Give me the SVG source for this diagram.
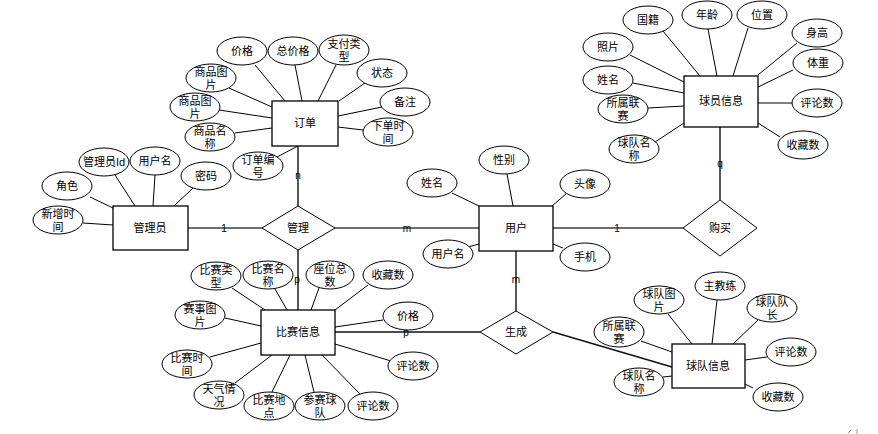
<svg xmlns="http://www.w3.org/2000/svg" width="878" height="434" viewBox="0 0 878 434">
<style>
.bg{fill:#fff}
.e{fill:#fff;stroke:#000;stroke-width:1}
.r{fill:#fff;stroke:#000;stroke-width:1.3}
.d{fill:#fff;stroke:#000;stroke-width:1}
.a{stroke:#000;stroke-width:1;fill:none}
.c{stroke:#111;stroke-width:1.4;fill:none}
.g{stroke:#6e6e6e;stroke-width:2;fill:none}
text{font-family:"Liberation Sans","Noto Sans CJK SC",sans-serif;font-size:11px;fill:#000;text-anchor:middle}
.l{font-size:10px}
</style>
<rect class="bg" x="0" y="0" width="878" height="434"/>

<g id="connectors">
<line class="g" x1="188" y1="228" x2="262" y2="228"/>
<line class="g" x1="335" y1="228" x2="479" y2="228"/>
<line class="g" x1="553" y1="228" x2="683" y2="228"/>
<line class="c" x1="298" y1="146" x2="298" y2="206"/>
<line class="c" x1="298" y1="250" x2="298" y2="310"/>
<line class="c" x1="720" y1="127" x2="720" y2="200"/>
<line class="c" x1="516" y1="251" x2="516" y2="311"/>
<line class="c" x1="335" y1="332" x2="480" y2="332"/>
<line class="c" x1="553" y1="332" x2="672" y2="367"/>
<text class="l" x="224" y="231.5">1</text>
<text class="l" x="407" y="231.5">m</text>
<text class="l" x="617" y="231.5">1</text>
<text class="l" x="298" y="179">n</text>
<text class="l" x="297" y="283">p</text>
<text class="l" x="720" y="167">q</text>
<text class="l" x="516" y="283">m</text>
<text class="l" x="406" y="336">p</text>
</g>

<g id="rel-guanli">
<polygon class="d" points="262,228 298,206 335,228 298,250"/>
<text x="298" y="232">管理</text>
</g>
<g id="rel-goumai">
<polygon class="d" points="683,228 720,200 757,228 720,256"/>
<text x="720" y="232">购买</text>
</g>
<g id="rel-shengcheng">
<polygon class="d" points="480,332 516,311 553,332 516,354"/>
<text x="516" y="336">生成</text>
</g>

<g id="order">
<line class="a" x1="255" y1="65" x2="285" y2="101"/>
<line class="a" x1="295" y1="65" x2="302" y2="101"/>
<line class="a" x1="336" y1="65" x2="318" y2="101"/>
<line class="a" x1="365" y1="83" x2="339" y2="101"/>
<line class="a" x1="382" y1="107" x2="338" y2="116"/>
<line class="a" x1="363" y1="130" x2="338" y2="127"/>
<line class="a" x1="229" y1="88" x2="272" y2="107"/>
<line class="a" x1="219" y1="110" x2="272" y2="118"/>
<line class="a" x1="235" y1="133" x2="272" y2="128"/>
<line class="a" x1="277" y1="157" x2="298" y2="146"/>
<rect class="r" x="272" y="101" width="66" height="45"/>
<text x="305" y="127">订单</text>
<ellipse class="e" cx="242" cy="51" rx="25" ry="14"/><text x="242" y="55">价格</text>
<ellipse class="e" cx="293" cy="51" rx="25" ry="14"/><text x="293" y="55">总价格</text>
<ellipse class="e" cx="344" cy="50" rx="25" ry="15"/><text x="344" y="47.5">支付类</text><text x="344" y="60.5">型</text>
<ellipse class="e" cx="382" cy="73" rx="25" ry="14"/><text x="382" y="77">状态</text>
<ellipse class="e" cx="405" cy="102" rx="25" ry="14"/><text x="405" y="106">备注</text>
<ellipse class="e" cx="388" cy="132" rx="25" ry="14"/><text x="388" y="129.5">下单时</text><text x="388" y="142.5">间</text>
<ellipse class="e" cx="211" cy="78" rx="25" ry="14"/><text x="211" y="75.5">商品图</text><text x="211" y="88.5">片</text>
<ellipse class="e" cx="195" cy="107" rx="25" ry="14"/><text x="195" y="104.5">商品图</text><text x="195" y="117.5">片</text>
<ellipse class="e" cx="210" cy="137" rx="25" ry="14"/><text x="210" y="134.5">商品名</text><text x="210" y="147.5">称</text>
<ellipse class="e" cx="258" cy="166" rx="25" ry="14"/><text x="258" y="163.5">订单编</text><text x="258" y="176.5">号</text>
</g>

<g id="admin">
<line class="a" x1="90" y1="197" x2="113" y2="208"/>
<line class="a" x1="115" y1="175" x2="135" y2="206"/>
<line class="a" x1="155" y1="175" x2="153" y2="206"/>
<line class="a" x1="193" y1="188" x2="174" y2="206"/>
<line class="a" x1="83" y1="223" x2="113" y2="225"/>
<rect class="r" x="113" y="206" width="75" height="44"/>
<text x="150" y="232">管理员</text>
<ellipse class="e" cx="67" cy="186" rx="25" ry="14"/><text x="67" y="190">角色</text>
<ellipse class="e" cx="104" cy="162" rx="25" ry="14"/><text x="104" y="166">管理员Id</text>
<ellipse class="e" cx="155" cy="161" rx="25" ry="14"/><text x="155" y="165">用户名</text>
<ellipse class="e" cx="206" cy="176" rx="25" ry="14"/><text x="206" y="180">密码</text>
<ellipse class="e" cx="58" cy="220" rx="25" ry="14"/><text x="58" y="217.5">新增时</text><text x="58" y="230.5">间</text>
</g>

<g id="user">
<line class="a" x1="452" y1="193" x2="479" y2="206"/>
<line class="a" x1="507" y1="174" x2="513" y2="206"/>
<line class="a" x1="567" y1="193" x2="552" y2="206"/>
<line class="a" x1="468" y1="247" x2="479" y2="244"/>
<line class="a" x1="563" y1="248" x2="553" y2="244"/>
<rect class="r" x="479" y="206" width="74" height="45"/>
<text x="516" y="232">用户</text>
<ellipse class="e" cx="432" cy="183" rx="25" ry="14"/><text x="432" y="187">姓名</text>
<ellipse class="e" cx="504" cy="160" rx="25" ry="14"/><text x="504" y="164">性别</text>
<ellipse class="e" cx="585" cy="184" rx="25" ry="14"/><text x="585" y="188">头像</text>
<ellipse class="e" cx="448" cy="254" rx="25" ry="14"/><text x="448" y="258">用户名</text>
<ellipse class="e" cx="585" cy="257" rx="25" ry="14"/><text x="585" y="261">手机</text>
</g>

<g id="player">
<line class="a" x1="663" y1="31" x2="700" y2="76"/>
<line class="a" x1="708" y1="29" x2="717" y2="76"/>
<line class="a" x1="748" y1="28" x2="733" y2="76"/>
<line class="a" x1="797" y1="43" x2="758" y2="75"/>
<line class="a" x1="793" y1="70" x2="758" y2="87"/>
<line class="a" x1="792" y1="103" x2="758" y2="103"/>
<line class="a" x1="780" y1="137" x2="758" y2="123"/>
<line class="a" x1="630" y1="55" x2="684" y2="82"/>
<line class="a" x1="633" y1="83" x2="684" y2="93"/>
<line class="a" x1="648" y1="108" x2="684" y2="106"/>
<line class="a" x1="652" y1="144" x2="684" y2="123"/>
<rect class="r" x="684" y="76" width="74" height="51"/>
<text x="721" y="105">球员信息</text>
<ellipse class="e" cx="648" cy="20" rx="25" ry="14"/><text x="648" y="24">国籍</text>
<ellipse class="e" cx="707" cy="15" rx="25" ry="14"/><text x="707" y="19">年龄</text>
<ellipse class="e" cx="762" cy="15" rx="25" ry="14"/><text x="762" y="19">位置</text>
<ellipse class="e" cx="817" cy="33" rx="25" ry="14"/><text x="817" y="37">身高</text>
<ellipse class="e" cx="818" cy="63" rx="25" ry="14"/><text x="818" y="67">体重</text>
<ellipse class="e" cx="817" cy="103" rx="25" ry="14"/><text x="817" y="107">评论数</text>
<ellipse class="e" cx="803" cy="145" rx="25" ry="14"/><text x="803" y="149">收藏数</text>
<ellipse class="e" cx="608" cy="47" rx="25" ry="14"/><text x="608" y="51">照片</text>
<ellipse class="e" cx="608" cy="80" rx="25" ry="14"/><text x="608" y="84">姓名</text>
<ellipse class="e" cx="623" cy="109" rx="25" ry="14"/><text x="623" y="106.5">所属联</text><text x="623" y="119.5">赛</text>
<ellipse class="e" cx="634" cy="149" rx="25" ry="14"/><text x="634" y="146.5">球队名</text><text x="634" y="159.5">称</text>
</g>

<g id="match">
<line class="a" x1="232" y1="288" x2="265" y2="310"/>
<line class="a" x1="275" y1="289" x2="287" y2="310"/>
<line class="a" x1="319" y1="288" x2="311" y2="310"/>
<line class="a" x1="368" y1="285" x2="335" y2="310"/>
<line class="a" x1="225" y1="318" x2="261" y2="326"/>
<line class="a" x1="383" y1="320" x2="335" y2="327"/>
<line class="a" x1="210" y1="357" x2="261" y2="343"/>
<line class="a" x1="391" y1="361" x2="335" y2="344"/>
<line class="a" x1="235" y1="383" x2="272" y2="355"/>
<line class="a" x1="272" y1="392" x2="290" y2="355"/>
<line class="a" x1="314" y1="392" x2="305" y2="355"/>
<line class="a" x1="360" y1="394" x2="322" y2="355"/>
<rect class="r" x="261" y="310" width="74" height="45"/>
<text x="298" y="336">比赛信息</text>
<ellipse class="e" cx="216" cy="276" rx="25" ry="14"/><text x="216" y="273.5">比赛类</text><text x="216" y="286.5">型</text>
<ellipse class="e" cx="268" cy="275" rx="25" ry="14"/><text x="268" y="272.5">比赛名</text><text x="268" y="285.5">称</text>
<ellipse class="e" cx="330" cy="275" rx="24" ry="14"/><text x="330" y="272.5">座位总</text><text x="330" y="285.5">数</text>
<ellipse class="e" cx="388" cy="275" rx="25" ry="14"/><text x="388" y="279">收藏数</text>
<ellipse class="e" cx="200" cy="315" rx="25" ry="14"/><text x="200" y="312.5">赛事图</text><text x="200" y="325.5">片</text>
<ellipse class="e" cx="408" cy="316" rx="25" ry="14"/><text x="408" y="320">价格</text>
<ellipse class="e" cx="187" cy="364" rx="25" ry="14"/><text x="187" y="361.5">比赛时</text><text x="187" y="374.5">间</text>
<ellipse class="e" cx="413" cy="366" rx="25" ry="14"/><text x="413" y="370">评论数</text>
<ellipse class="e" cx="219" cy="395" rx="25" ry="14"/><text x="219" y="392.5">天气情</text><text x="219" y="405.5">况</text>
<ellipse class="e" cx="269" cy="406" rx="25" ry="14"/><text x="269" y="403.5">比赛地</text><text x="269" y="416.5">点</text>
<ellipse class="e" cx="320" cy="406" rx="25" ry="14"/><text x="320" y="403.5">参赛球</text><text x="320" y="416.5">队</text>
<ellipse class="e" cx="373" cy="406" rx="25" ry="14"/><text x="373" y="410">评论数</text>
</g>

<g id="team">
<line class="a" x1="668" y1="314" x2="692" y2="344"/>
<line class="a" x1="717" y1="300" x2="712" y2="344"/>
<line class="a" x1="758" y1="320" x2="733" y2="344"/>
<line class="a" x1="641" y1="341" x2="672" y2="352"/>
<line class="a" x1="767" y1="357" x2="745" y2="360"/>
<line class="a" x1="663" y1="377" x2="672" y2="376"/>
<line class="a" x1="753" y1="388" x2="745" y2="384"/>
<rect class="r" x="672" y="344" width="73" height="44"/>
<text x="708" y="370">球队信息</text>
<ellipse class="e" cx="659" cy="300" rx="25" ry="14"/><text x="659" y="297.5">球队图</text><text x="659" y="310.5">片</text>
<ellipse class="e" cx="720" cy="286" rx="25" ry="14"/><text x="720" y="290">主教练</text>
<ellipse class="e" cx="772" cy="308" rx="25" ry="14"/><text x="772" y="305.5">球队队</text><text x="772" y="318.5">长</text>
<ellipse class="e" cx="619" cy="332" rx="25" ry="15"/><text x="619" y="329.5">所属联</text><text x="619" y="342.5">赛</text>
<ellipse class="e" cx="791" cy="352" rx="25" ry="14"/><text x="791" y="356">评论数</text>
<ellipse class="e" cx="639" cy="382" rx="25" ry="14"/><text x="639" y="379.5">球队名</text><text x="639" y="392.5">称</text>
<ellipse class="e" cx="778" cy="397" rx="25" ry="14"/><text x="778" y="401">收藏数</text>
</g>

<g id="corner-mark">
<line x1="848" y1="433" x2="851" y2="430" stroke="#999" stroke-width="1"/>
<line x1="857" y1="429" x2="857" y2="434" stroke="#999" stroke-width="1"/>
</g>
</svg>
